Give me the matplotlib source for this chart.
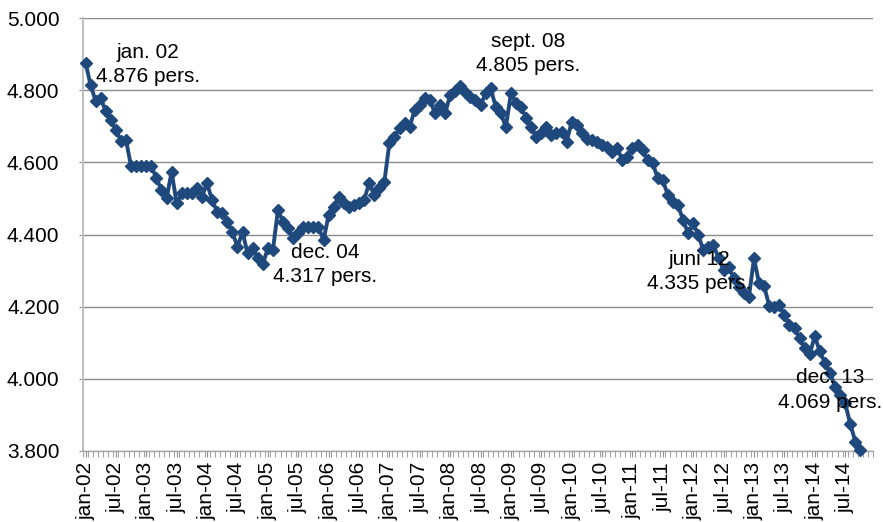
import matplotlib
matplotlib.use("Agg")
import matplotlib.pyplot as plt
import numpy as np

plt.rcParams['font.family'] = ['Liberation Sans', 'DejaVu Sans']

# Monthly values, jan-02 .. oct-14 (persons)
values = [
    4876, 4814, 4770, 4777, 4742, 4717, 4689, 4660, 4661, 4589,   # jan-02 .. oct-02
    4589, 4589, 4589, 4589, 4556, 4523, 4500, 4574, 4486, 4514,   # nov-02 .. aug-03
    4514, 4514, 4528, 4505, 4542, 4495, 4463, 4459, 4435, 4407,   # sep-03 .. jun-04
    4366, 4407, 4348, 4362, 4334, 4317, 4362, 4357, 4468, 4435,   # jul-04 .. apr-05
    4418, 4390, 4404, 4421, 4421, 4421, 4421, 4384, 4454, 4477,   # may-05 .. feb-06
    4505, 4487, 4476, 4481, 4488, 4495, 4542, 4509, 4528, 4545,   # mar-06 .. dec-06
    4653, 4670, 4694, 4710, 4698, 4745, 4758, 4778, 4772, 4736,   # jan-07 .. oct-07
    4758, 4736, 4786, 4797, 4811, 4795, 4780, 4772, 4758, 4791,   # nov-07 .. aug-08
    4805, 4754, 4736, 4698, 4791, 4764, 4754, 4722, 4698, 4671,   # sep-08 .. jun-09
    4680, 4698, 4675, 4680, 4684, 4657, 4712, 4703, 4680, 4665,   # jul-09 .. apr-10
    4661, 4657, 4648, 4643, 4629, 4639, 4606, 4615, 4639, 4648,   # may-10 .. feb-11
    4634, 4606, 4597, 4556, 4550, 4509, 4490, 4481, 4440, 4403,   # mar-11 .. dec-11
    4431, 4398, 4357, 4366, 4370, 4335, 4301, 4310, 4279, 4255,   # jan-12 .. oct-12
    4237, 4227, 4334, 4265, 4258, 4202, 4200, 4204, 4177, 4149,   # nov-12 .. aug-13
    4140, 4113, 4085, 4069, 4118, 4076, 4045, 4017, 3978, 3955,   # sep-13 .. jun-14
    3932, 3876, 3826, 3802,                                       # jul-14 .. oct-14
]

years = list(range(2002, 2015))
tick_labels = []
for y in years:
    tick_labels += [f"jan-{y % 100:02d}", f"jul-{y % 100:02d}"]

y_ticks = [3800, 4000, 4200, 4400, 4600, 4800, 5000]

annotations = [
    (0, "jan. 02\n4.876 pers.", (45, -1)),
    (35, "dec. 04\n4.317 pers.", (45, 0)),
    (80, "sept. 08\n4.805 pers.", (27, 25)),
    (125, "juni 12\n4.335 pers.", (-14, -10)),
    (143, "dec. 13\n4.069 pers.", (15, -26)),
]

fs = 15
line_color = '#1f497d'
grid_color = '#8c8c8c'

fig = plt.figure(figsize=(8.83, 5.22), dpi=100)
ax = fig.add_axes([83 / 883, 71 / 522, 790 / 883, 433 / 522])

x = np.arange(len(values))
ax.plot(x, values, color=line_color, lw=2.8, marker='D', ms=6.2,
        markeredgecolor=line_color, markerfacecolor=line_color, zorder=3,
        clip_on=False)

ax.set_xlim(-0.5, 155.5)
ax.set_ylim(3800, 5000)
ax.set_yticks(y_ticks)
ax.set_yticklabels([f"{v:,.0f}".replace(",", ".") for v in y_ticks], fontsize=fs)
ax.yaxis.grid(True, color=grid_color, lw=1.0)
ax.set_axisbelow(True)

major = np.arange(0, len(tick_labels) * 6, 6)
ax.set_xticks(major)
ax.set_xticklabels(tick_labels, rotation=90, fontsize=fs)
ax.set_xticks(np.arange(-0.5, 156, 1), minor=True)
ax.tick_params(axis='x', which='both', length=4, color=grid_color, pad=4)
ax.tick_params(axis='y', length=3, color=grid_color, pad=14)

for s in ['top', 'right']:
    ax.spines[s].set_visible(False)
ax.spines['left'].set_color('#bfbfbf')
ax.spines['left'].set_linewidth(1.5)
ax.spines['bottom'].set_color('#a6a6a6')
ax.spines['bottom'].set_linewidth(1.0)

for i, txt, off in annotations:
    ax.annotate(txt, xy=(i, values[i]), xytext=off, textcoords='offset points',
                ha='center', va='center', fontsize=fs, linespacing=1.35,
                zorder=4, annotation_clip=False)

fig.savefig("out.png", dpi=100)
